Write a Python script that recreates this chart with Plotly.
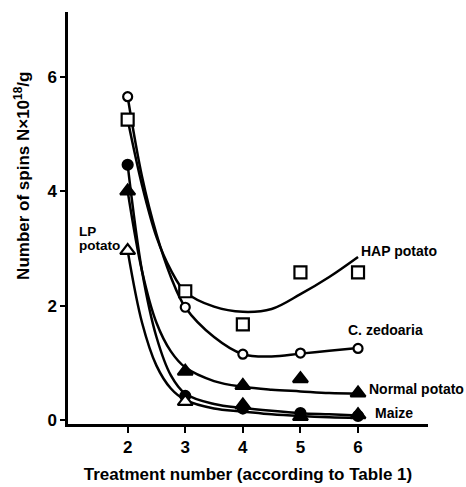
import plotly.graph_objects as go

# ---- data ----
treatments = [2, 3, 4, 5, 6]
hap_potato = [5.25, 2.25, 1.67, 2.58, 2.58]
c_zedoaria = [5.65, 1.97, 1.15, 1.17, 1.25]
normal_potato = [4.0, 0.85, 0.6, 0.72, 0.47]
maize = [4.46, 0.42, 0.2, 0.12, 0.07]
lp_potato = [2.96, 0.32, 0.26, 0.06, 0.09]

# fitted curves
fit_x = [2, 2.25, 2.5, 2.75, 3, 3.5, 4, 4.5, 5, 5.5, 6]
hap_fit = [5.25, 4.1, 3.2, 2.62, 2.24, 1.98, 1.89, 1.94, 2.2, 2.5, 2.85]
zed_fit = [5.65, 4.25, 3.25, 2.5, 1.97, 1.45, 1.15, 1.11, 1.16, 1.21, 1.26]
normal_fit = [4.0, 2.6, 1.7, 1.2, 0.92, 0.68, 0.58, 0.53, 0.5, 0.47, 0.46]
maize_fit = [4.46, 2.6, 1.45, 0.78, 0.46, 0.28, 0.21, 0.16, 0.12, 0.1, 0.08]
lp_fit = [2.96, 1.7, 0.95, 0.55, 0.35, 0.2, 0.15, 0.1, 0.07, 0.05, 0.04]

x_ticks = [2, 3, 4, 5, 6]
y_ticks = [0, 2, 4, 6]

FONT = "Liberation Sans, Arial, sans-serif"
fig = go.Figure()

for fy in [hap_fit, zed_fit, normal_fit, maize_fit, lp_fit]:
    fig.add_trace(go.Scatter(x=fit_x, y=fy, mode="lines",
                             line=dict(color="black", width=2.5, shape="spline", smoothing=1.0),
                             hoverinfo="skip", showlegend=False))

def mk(y, symbol, size, fill):
    fig.add_trace(go.Scatter(x=treatments, y=y, mode="markers", showlegend=False,
                             marker=dict(symbol=symbol, size=size, color=fill,
                                         line=dict(color="black", width=2.2))))

mk(hap_potato, "square", 12, "white")
mk(c_zedoaria, "circle", 9, "white")
mk(normal_potato, "triangle-up", 13, "black")
mk(maize, "circle", 10, "black")
mk(lp_potato, "triangle-up", 13, ["white", "white", "black", "black", "black"])

labels = [
    (6.71, 2.95, "HAP potato"),
    (6.48, 1.57, "C. zedoaria"),
    (7.02, 0.54, "Normal potato"),
    (6.63, 0.12, "Maize"),
]
for x, y, t in labels:
    fig.add_annotation(x=x, y=y, text=t, showarrow=False, xanchor="center",
                       font=dict(family=FONT, size=14, color="black", weight="bold"))
fig.add_annotation(x=1.12, y=3.29, text="LP", showarrow=False, xanchor="left",
                   font=dict(family=FONT, size=13.5, color="black", weight="bold"))
fig.add_annotation(x=1.12, y=3.05, text="potato", showarrow=False, xanchor="left",
                   font=dict(family=FONT, size=13.5, color="black", weight="bold"))

# y-axis title (placed like in the reference, above the axis centre)
fig.add_annotation(xref="paper", yref="paper", x=-0.128, y=0.602,
                   text="Number of spins N×10<sup>18</sup>/g", textangle=-90,
                   showarrow=False, xanchor="center", yanchor="middle",
                   font=dict(family=FONT, size=17, color="black", weight="bold"))

fig.update_layout(
    width=466, height=487,
    margin=dict(l=68, r=38, t=12, b=63),
    plot_bgcolor="white", paper_bgcolor="white",
    font=dict(family=FONT, color="black", weight="bold"),
    xaxis=dict(range=[0.964, 7.215], tickvals=x_ticks, showgrid=False, zeroline=False,
               automargin=False,
               showline=True, linecolor="black", linewidth=2.5,
               ticks="outside", ticklen=6, tickwidth=2, tickcolor="black",
               tickfont=dict(family=FONT, size=17, weight="bold"),
               title=dict(text="Treatment number (according to Table 1)", standoff=12,
                          font=dict(family=FONT, size=17, weight="bold"))),
    yaxis=dict(range=[-0.07, 7.13], tickvals=y_ticks, showgrid=False, zeroline=False,
               automargin=False,
               showline=True, linecolor="black", linewidth=2.5,
               ticks="outside", ticklen=5, tickwidth=2, tickcolor="black",
               tickfont=dict(family=FONT, size=17, weight="bold")),
)

fig.write_html("out.html")
